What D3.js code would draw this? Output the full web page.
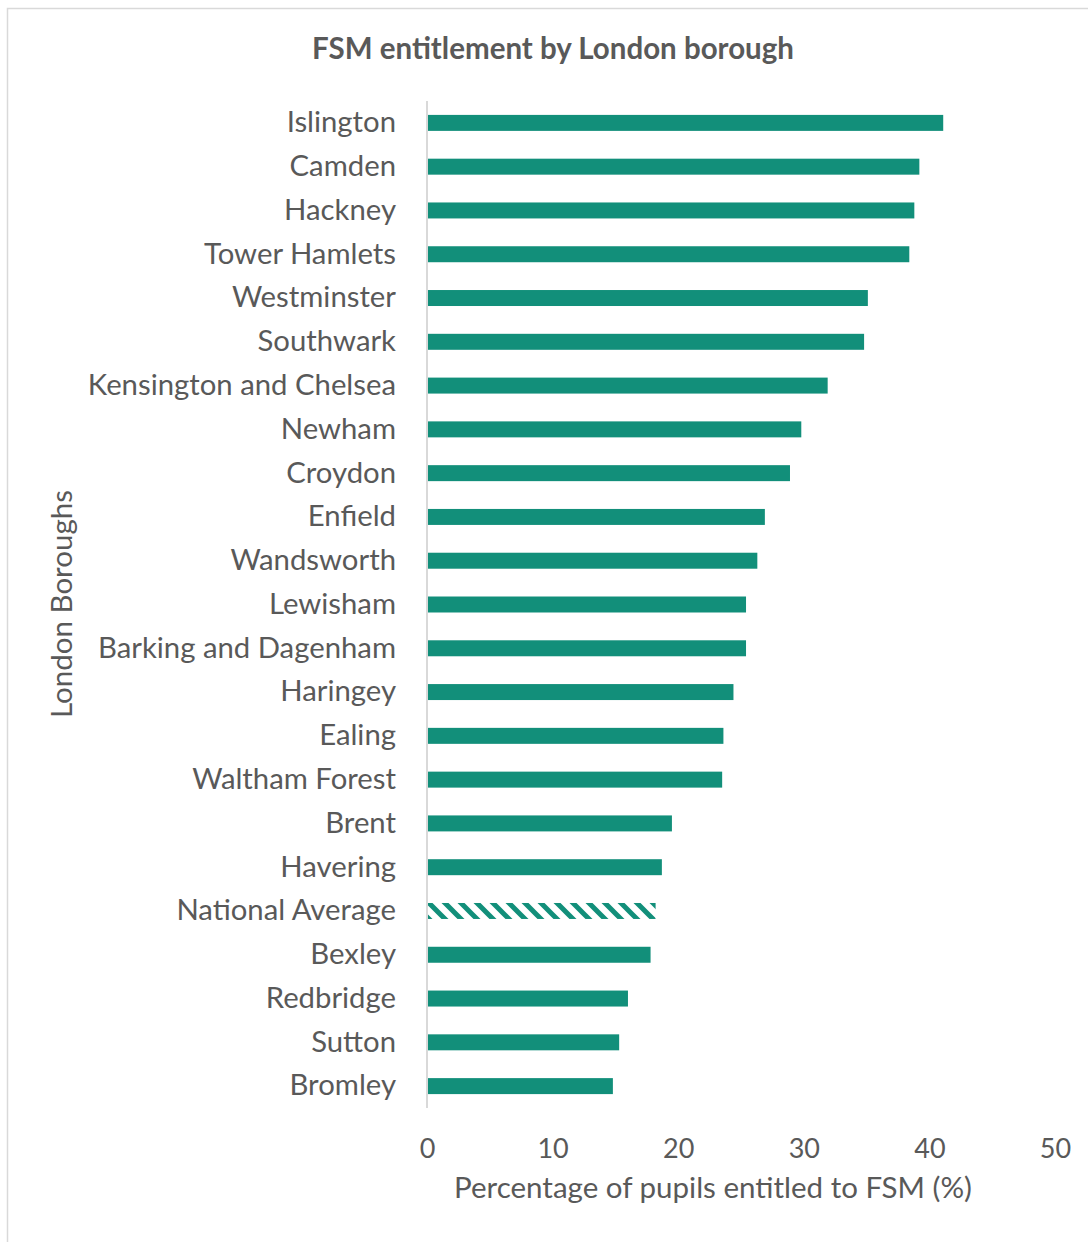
<!DOCTYPE html>
<html>
<head>
<meta charset="utf-8">
<script src="https://cdn.jsdelivr.net/npm/d3@7"></script>
<style>
  body { margin: 0; background: #fff; }
  svg text { font-family: Lato, "Open Sans", sans-serif; fill: #595959; }
</style>
</head>
<body>
<div id="chart"></div>
<script>
const boroughs = [
  'Islington', 'Camden', 'Hackney', 'Tower Hamlets', 'Westminster', 'Southwark',
  'Kensington and Chelsea', 'Newham', 'Croydon', 'Enfield', 'Wandsworth', 'Lewisham',
  'Barking and Dagenham', 'Haringey', 'Ealing', 'Waltham Forest', 'Brent', 'Havering',
  'National Average', 'Bexley', 'Redbridge', 'Sutton', 'Bromley'
];
const fsmPercent = [
  41.1, 39.2, 38.8, 38.4, 35.1, 34.8,
  31.9, 29.8, 28.9, 26.9, 26.3, 25.4,
  25.4, 24.4, 23.6, 23.5, 19.5, 18.7,
  18.2, 17.8, 16.0, 15.3, 14.8
];
const xTicks = [0, 10, 20, 30, 40, 50];
const averageLabel = 'National Average';

const width = 1088, height = 1242;
const margin = { top: 101, right: 33, bottom: 134, left: 427 };
const innerH = height - margin.top - margin.bottom;
const teal = '#128f7a';

const svg = d3.select('#chart').append('svg')
  .attr('width', width).attr('height', height);

// hatch pattern for national average
const defs = svg.append('defs');
const pat = defs.append('pattern')
  .attr('id', 'hatch').attr('patternUnits', 'userSpaceOnUse')
  .attr('width', 16).attr('height', 16);
pat.append('rect').attr('width', 16).attr('height', 16).attr('fill', '#fff');
pat.append('path')
  .attr('d', 'M-4,-4 L20,20 M-4,12 L4,20 M12,-4 L20,4')
  .attr('stroke', teal).attr('stroke-width', 5);

// outer chart border
svg.append('rect')
  .attr('x', 7.5).attr('y', 8.5).attr('width', 1100).attr('height', 1250)
  .attr('fill', 'none').attr('stroke', '#d9d9d9').attr('stroke-width', 1.5);

svg.append('text')
  .attr('x', 553).attr('y', 59)
  .attr('text-anchor', 'middle')
  .attr('font-size', 29.5).attr('font-weight', 'bold')
  .text('FSM entitlement by London borough');

const g = svg.append('g').attr('transform', `translate(${margin.left},${margin.top})`);

const x = d3.scaleLinear().domain([0, 50]).range([0, 628]);
const y = d3.scaleBand().domain(boroughs).range([0, innerH]).paddingInner(0.635).paddingOuter(0.3175);

g.selectAll('rect.bar')
  .data(boroughs)
  .join('rect')
  .attr('class', 'bar')
  .attr('x', x(0))
  .attr('y', d => y(d))
  .attr('width', (d, i) => x(fsmPercent[i]) - x(0))
  .attr('height', y.bandwidth())
  .attr('fill', d => d === averageLabel ? 'url(#hatch)' : teal);

// category axis
const yAxis = g.append('g').call(d3.axisLeft(y).tickSize(0).tickPadding(31));
yAxis.select('.domain').remove();
yAxis.selectAll('text').attr('font-size', 29.3).attr('fill', '#595959');

g.append('line')
  .attr('x1', x(0)).attr('x2', x(0))
  .attr('y1', 0).attr('y2', innerH)
  .attr('stroke', '#d9d9d9').attr('stroke-width', 2);

// value axis (labels only)
const xAxis = g.append('g')
  .attr('transform', `translate(0,${innerH})`)
  .call(d3.axisBottom(x).tickValues(xTicks).tickSize(0).tickPadding(31));
xAxis.select('.domain').remove();
xAxis.selectAll('text').attr('font-size', 27).attr('fill', '#595959');

svg.append('text')
  .attr('x', 713).attr('y', 1198)
  .attr('text-anchor', 'middle')
  .attr('font-size', 29.5)
  .text('Percentage of pupils entitled to FSM (%)');

svg.append('text')
  .attr('transform', 'translate(72,604) rotate(-90)')
  .attr('text-anchor', 'middle')
  .attr('font-size', 29.5)
  .text('London Boroughs');
</script>
</body>
</html>
